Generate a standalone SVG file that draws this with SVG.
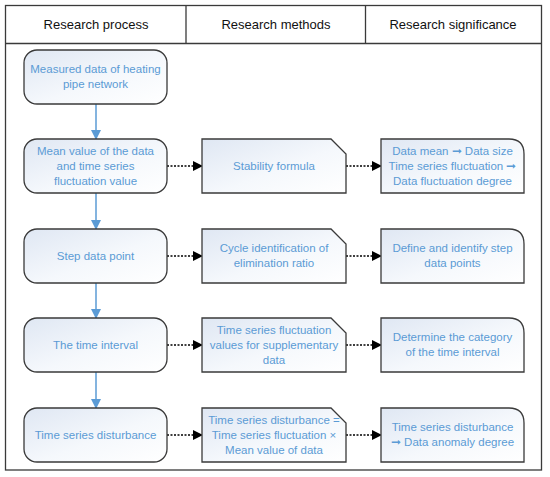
<svg xmlns="http://www.w3.org/2000/svg" width="550" height="477" viewBox="0 0 550 477">
<defs>
<linearGradient id="g" x1="0" y1="0" x2="1" y2="1">
<stop offset="0" stop-color="#dfe7f3"/>
<stop offset="0.55" stop-color="#f5f8fc"/>
<stop offset="1" stop-color="#ffffff"/>
</linearGradient>
<marker id="ab" markerWidth="10" markerHeight="10" refX="9" refY="5" orient="auto" markerUnits="userSpaceOnUse">
<path d="M0,0 L10,5 L0,10 Z" fill="#5b9bd5"/>
</marker>
<marker id="ak" markerWidth="10" markerHeight="10" refX="9" refY="5" orient="auto" markerUnits="userSpaceOnUse">
<path d="M0,0 L10,5 L0,10 Z" fill="#000"/>
</marker>
</defs>
<style>
.box{fill:url(#g);stroke:#3a3a3a;stroke-width:1.3}
.t{font-family:"Liberation Sans",Arial,sans-serif;font-size:11.5px;fill:#5b9bd5;text-anchor:middle}
.h{font-family:"Liberation Sans",Arial,sans-serif;font-size:13px;fill:#111;text-anchor:middle}
.blue{stroke:#5b9bd5;stroke-width:1.5;fill:none;marker-end:url(#ab)}
.dot{stroke:#000;stroke-width:1.3;stroke-dasharray:2,1.5;fill:none;marker-end:url(#ak)}
</style>
<rect x="0" y="0" width="550" height="477" fill="#fff"/>
<g id="frame" fill="none" stroke="#3a3a3a" stroke-width="1.3">
<rect x="5.5" y="5.5" width="536" height="464.5"/>
<line x1="5.5" y1="43.5" x2="541.5" y2="43.5"/>
<line x1="186" y1="5.5" x2="186" y2="43.5"/>
<line x1="365.5" y1="5.5" x2="365.5" y2="43.5"/>
</g>
<g id="headers">
<text class="h" x="96" y="29">Research process</text>
<text class="h" x="276" y="29">Research methods</text>
<text class="h" x="453" y="29">Research significance</text>
</g>
<g id="connectors">
<line class="blue" x1="96" y1="104" x2="96" y2="139"/>
<line class="blue" x1="96" y1="193" x2="96" y2="229"/>
<line class="blue" x1="96" y1="283" x2="96" y2="318"/>
<line class="blue" x1="96" y1="372" x2="96" y2="408"/>
<line class="dot" x1="167" y1="166" x2="202" y2="166"/>
<line class="dot" x1="167" y1="256" x2="202" y2="256"/>
<line class="dot" x1="167" y1="345" x2="202" y2="345"/>
<line class="dot" x1="167" y1="435" x2="202" y2="435"/>
<line class="dot" x1="346" y1="166" x2="381" y2="166"/>
<line class="dot" x1="346" y1="256" x2="381" y2="256"/>
<line class="dot" x1="346" y1="345" x2="381" y2="345"/>
<line class="dot" x1="346" y1="435" x2="381" y2="435"/>
</g>
<g id="p1"><rect class="box" x="24" y="50" width="143" height="54" rx="13"/>
<text class="t" x="95.5" y="73">Measured data of heating</text><text class="t" x="95.5" y="88">pipe network</text></g>
<g id="p2"><rect class="box" x="24" y="139" width="143" height="54" rx="13"/>
<text class="t" x="95.5" y="155">Mean value of the data</text><text class="t" x="95.5" y="170">and time series</text><text class="t" x="95.5" y="185">fluctuation value</text></g>
<g id="p3"><rect class="box" x="24" y="229" width="143" height="54" rx="13"/>
<text class="t" x="95.5" y="260">Step data point</text></g>
<g id="p4"><rect class="box" x="24" y="318" width="143" height="54" rx="13"/>
<text class="t" x="95.5" y="349">The time interval</text></g>
<g id="p5"><rect class="box" x="24" y="408" width="143" height="54" rx="13"/>
<text class="t" x="95.5" y="439">Time series disturbance</text></g>
<g id="m1"><path class="box" d="M202,139 H331 L346,154 V193 H202 Z"/>
<text class="t" x="274" y="170">Stability formula</text></g>
<g id="m2"><path class="box" d="M202,229 H331 L346,244 V283 H202 Z"/>
<text class="t" x="274" y="252">Cycle identification of</text><text class="t" x="274" y="267">elimination ratio</text></g>
<g id="m3"><path class="box" d="M202,318 H331 L346,333 V372 H202 Z"/>
<text class="t" x="274" y="334">Time series fluctuation</text><text class="t" x="274" y="349">values for supplementary</text><text class="t" x="274" y="364">data</text></g>
<g id="m4"><path class="box" d="M202,408 H331 L346,423 V462 H202 Z"/>
<text class="t" x="274" y="424">Time series disturbance =</text><text class="t" x="274" y="439">Time series fluctuation ×</text><text class="t" x="274" y="454">Mean value of data</text></g>
<g id="s1"><path class="box" d="M381,139 H509 Q524,139 524,154 V193 H381 Z"/>
<text class="t" x="452.5" y="155">Data mean ➞ Data size</text><text class="t" x="452.5" y="170">Time series fluctuation ➞</text><text class="t" x="452.5" y="185">Data fluctuation degree</text></g>
<g id="s2"><path class="box" d="M381,229 H509 Q524,229 524,244 V283 H381 Z"/>
<text class="t" x="452.5" y="252">Define and identify step</text><text class="t" x="452.5" y="267">data points</text></g>
<g id="s3"><path class="box" d="M381,318 H509 Q524,318 524,333 V372 H381 Z"/>
<text class="t" x="452.5" y="341">Determine the category</text><text class="t" x="452.5" y="356">of the time interval</text></g>
<g id="s4"><path class="box" d="M381,408 H509 Q524,408 524,423 V462 H381 Z"/>
<text class="t" x="452.5" y="431">Time series disturbance</text><text class="t" x="452.5" y="446">➞ Data anomaly degree</text></g>
</svg>
